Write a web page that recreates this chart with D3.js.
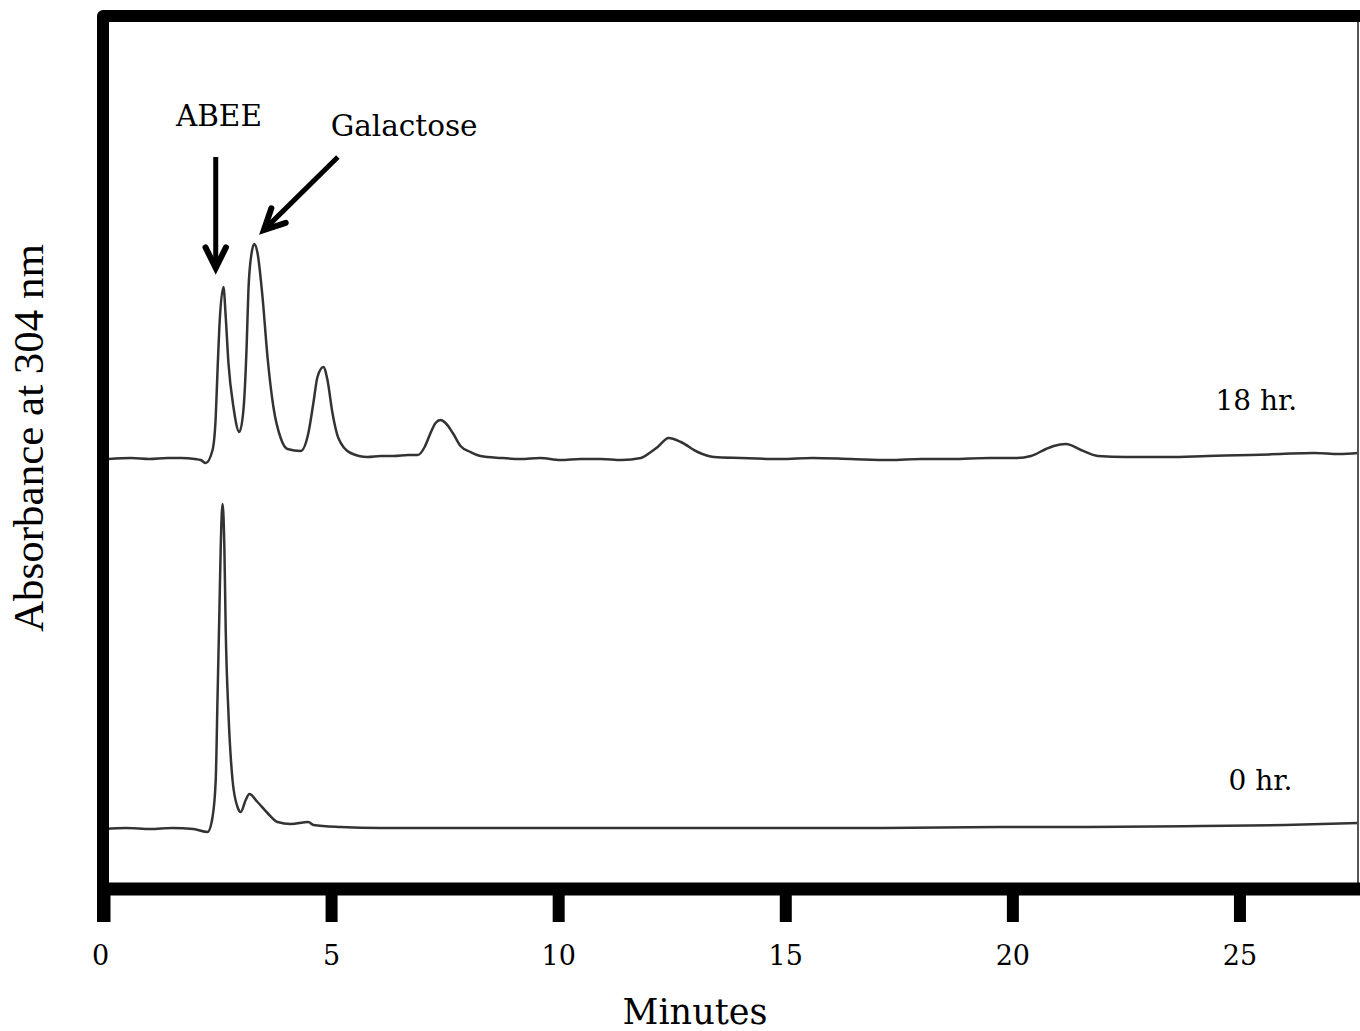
<!DOCTYPE html>
<html>
<head>
<meta charset="utf-8">
<script src="https://cdn.jsdelivr.net/npm/d3@7/dist/d3.min.js"></script>
<style>
  html, body { margin: 0; padding: 0; background: #fff; }
  svg { display: block; }
</style>
</head>
<body>
<svg id="chart" width="1360" height="1031"></svg>
<script>
// ---- Data ----
// Retention time in minutes
const xTicks = [0, 5, 10, 15, 20, 25];

// 18 hr trace: time (min)
const t18 = [0.10, 0.6, 1.0, 1.4, 1.7, 2.0, 2.13, 2.24, 2.39, 2.46, 2.50, 2.54, 2.63, 2.68, 2.74, 2.85, 2.98,
  3.07, 3.14, 3.18, 3.25, 3.31, 3.38, 3.49, 3.60, 3.73, 3.89, 4.04, 4.33, 4.50, 4.61, 4.70, 4.83, 4.92,
  5.03, 5.16, 5.43, 5.80, 6.1, 6.38, 6.7, 6.91, 7.06, 7.19, 7.30, 7.41, 7.52, 7.68, 7.85, 8.07, 8.29,
  8.74, 9.17, 9.6, 10.05, 10.5, 10.94, 11.4, 11.82, 12.04, 12.19, 12.43, 12.70, 13.07, 13.43, 14.02,
  14.90, 15.6, 16.44, 17.3, 18.0, 18.65, 19.5, 20.1, 20.41, 20.74, 20.91, 21.18, 21.51, 21.88, 22.5,
  23.42, 24.3, 25.25, 25.9, 26.64, 27.2, 27.61];
// 18 hr trace: absorbance (arbitrary units)
const a18 = [426, 427, 426, 427, 427, 426, 425, 422, 435, 468, 515, 558, 598, 568, 522, 478, 453,
  475, 538, 595, 632, 641, 632, 588, 528, 478, 447, 436, 434, 452, 482, 508, 518, 505,
  472, 447, 432, 428, 429, 429, 430, 430, 438, 452, 462, 465, 462, 452, 439, 433, 429,
  427, 426, 427, 425, 426, 426, 425, 427, 433, 438, 447, 443, 433, 428, 427,
  426, 427, 426, 425, 426, 426, 427, 427, 429, 436, 439, 441, 435, 429, 428,
  428, 429, 430, 431, 432, 431, 432];

// 0 hr trace: time (min)
const t0 = [0.0, 0.5, 1.02, 1.5, 1.97, 2.28, 2.39, 2.46, 2.50, 2.54, 2.57, 2.61, 2.65, 2.68, 2.74, 2.83,
  2.94, 3.01, 3.12, 3.20, 3.38, 3.60, 3.82, 4.11, 4.50, 4.61, 5.21, 6.09, 7.0, 8.74, 10.5, 13.14,
  15.0, 17.10, 19.75, 21.5, 24.15, 26.0, 27.61];
// 0 hr trace: absorbance (arbitrary units)
const a0 = [56, 57, 56, 57, 56, 53, 68, 105, 188, 272, 338, 381, 338, 255, 172, 105,
  78, 73, 85, 91, 83, 72, 63, 61, 63, 60, 58, 57, 57, 57, 57, 57,
  57, 57, 58, 58, 59, 60, 62];

const traceLabels = ["18 hr.", "0 hr."];
const peakLabels = ["ABEE", "Galactose"];
const xLabel = "Minutes";
const yLabel = "Absorbance at 304 nm";

// ---- Layout ----
const svg = d3.select("#chart");
const x = d3.scaleLinear().domain([0, 27.61]).range([104, 1358]);
const y = d3.scaleLinear().domain([0, 871]).range([885, 14]);

const series = [
  t18.map((t, i) => [t, a18[i]]),
  t0.map((t, i) => [t, a0[i]])
];

const line = d3.line()
  .x(d => x(d[0]))
  .y(d => y(d[1]))
  .curve(d3.curveMonotoneX);

// traces
svg.append("g").selectAll("path").data(series).join("path")
  .attr("d", line)
  .attr("fill", "none")
  .attr("stroke", "#333")
  .attr("stroke-width", 2.5)
  .attr("stroke-linejoin", "round");

// frame: thin right border
svg.append("line")
  .attr("x1", 1358).attr("x2", 1358)
  .attr("y1", 16).attr("y2", 889)
  .attr("stroke", "#555").attr("stroke-width", 2);

// thick left + top border
svg.append("path")
  .attr("d", `M${x(0) - 1},922 L${x(0) - 1},16 L1362,16`)
  .attr("fill", "none")
  .attr("stroke", "#000")
  .attr("stroke-width", 12)
  .attr("stroke-linejoin", "round");

// x axis
const axis = d3.axisBottom(x)
  .tickValues(xTicks)
  .tickSizeInner(33)
  .tickSizeOuter(0)
  .tickFormat(d3.format("d"));

const gx = svg.append("g")
  .attr("transform", "translate(0,889)")
  .call(axis);
gx.select(".domain")
  .attr("d", `M${x(0) - 7},0H1362`)
  .attr("stroke", "#000")
  .attr("stroke-width", 13);
gx.selectAll(".tick line")
  .attr("stroke", "#000")
  .attr("stroke-width", 12)
  .attr("y1", 0);
gx.selectAll(".tick text")
  .attr("y", 76)
  .attr("dy", 0)
  .attr("fill", "#000")
  .style("font-family", "'DejaVu Serif', serif")
  .style("font-size", "27px");
gx.selectAll(".tick").filter(d => d === 0).select("text").attr("x", -4);

// axis titles
svg.append("text")
  .attr("x", 695).attr("y", 1024)
  .attr("text-anchor", "middle")
  .style("font-family", "'DejaVu Serif', serif")
  .style("font-size", "35px")
  .text(xLabel);

svg.append("text")
  .attr("transform", "translate(43,438) rotate(-90)")
  .attr("text-anchor", "middle")
  .style("font-family", "'Liberation Serif', 'Times New Roman', serif")
  .style("font-size", "43px")
  .text(yLabel);

// trace labels
const traceLabelPos = [[24.47, 475], [24.76, 95]];
svg.append("g").selectAll("text").data(traceLabels).join("text")
  .attr("x", (d, i) => x(traceLabelPos[i][0]))
  .attr("y", (d, i) => y(traceLabelPos[i][1]))
  .style("font-family", "'DejaVu Serif', serif")
  .style("font-size", "28px")
  .text(d => d);

// peak annotations
const peakTextPos = [[2.53, 759, "middle"], [4.99, 749, "start"]];
svg.append("g").selectAll("text").data(peakLabels).join("text")
  .attr("x", (d, i) => x(peakTextPos[i][0]))
  .attr("y", (d, i) => y(peakTextPos[i][1]))
  .attr("text-anchor", (d, i) => peakTextPos[i][2])
  .style("font-family", "'DejaVu Serif', serif")
  .style("font-size", "29.5px")
  .text(d => d);

// arrows: [tail t, tail a, tip t, tip a]
const arrows = [[2.46, 728, 2.46, 617], [5.15, 728, 3.52, 655]];
const ga = svg.append("g");
arrows.forEach(a => {
  const x1 = x(a[0]), y1 = y(a[1]), x2 = x(a[2]), y2 = y(a[3]);
  const ang = Math.atan2(y2 - y1, x2 - x1);
  const L = 23, h = 0.46;
  const w1 = [x2 - L * Math.cos(ang - h), y2 - L * Math.sin(ang - h)];
  const w2 = [x2 - L * Math.cos(ang + h), y2 - L * Math.sin(ang + h)];
  ga.append("line")
    .attr("x1", x1).attr("y1", y1).attr("x2", x2 - 3 * Math.cos(ang)).attr("y2", y2 - 3 * Math.sin(ang))
    .attr("stroke", "#000").attr("stroke-width", 5);
  ga.append("path")
    .attr("d", `M${w1[0]},${w1[1]}L${x2},${y2}L${w2[0]},${w2[1]}`)
    .attr("fill", "none").attr("stroke", "#000").attr("stroke-width", 6)
    .attr("stroke-linejoin", "miter").attr("stroke-linecap", "round");
});
</script>
</body>
</html>
